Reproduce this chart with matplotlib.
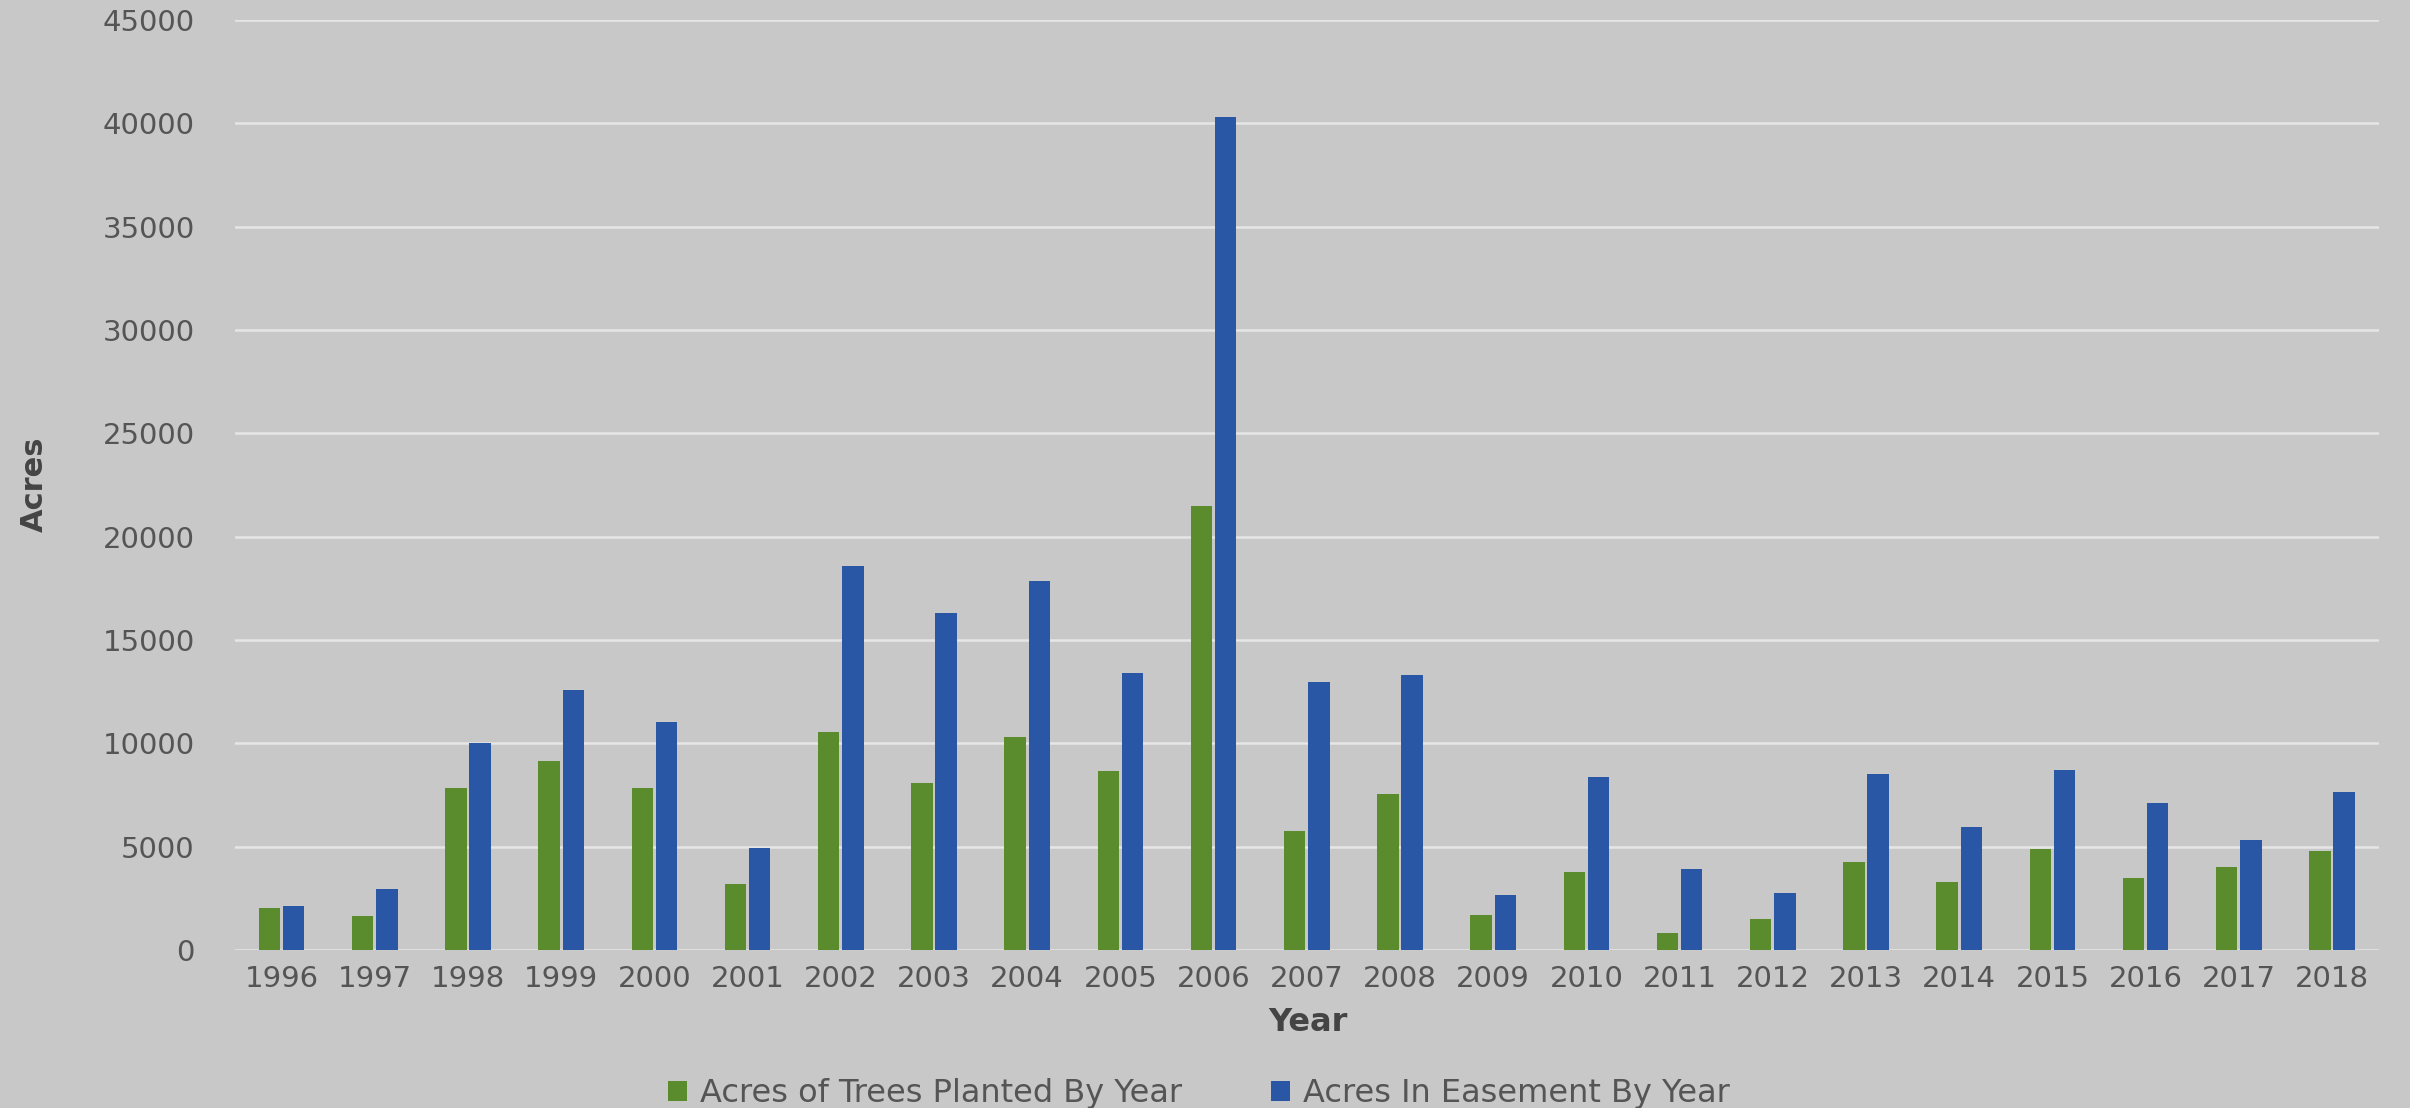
import matplotlib
matplotlib.use('Agg')
import matplotlib.pyplot as plt
import numpy

years = ['1996', '1997', '1998', '1999', '2000', '2001', '2002', '2003',
         '2004', '2005', '2006', '2007', '2008', '2009', '2010', '2011',
         '2012', '2013', '2014', '2015', '2016', '2017', '2018']

trees_planted = [2050, 1650, 7850, 9150, 7850, 3200, 10550, 8100,
                 10300, 8650, 21500, 5750, 7550, 1700, 3750, 800,
                 1500, 4250, 3300, 4900, 3500, 4000, 4800]

easement = [2150, 2950, 10000, 12600, 11050, 4950, 18600, 16300,
            17850, 13400, 40300, 12950, 13300, 2650, 8350, 3900,
            2750, 8500, 5950, 8700, 7100, 5300, 7650]

y_ticks = [0, 5000, 10000, 15000, 20000, 25000, 30000, 35000, 40000, 45000]

BG = '#c8c8c8'
GREEN = '#5a8b2d'
BLUE = '#2a56a6'
TEXT = '#555555'

fig = plt.figure(figsize=(24.1, 11.08), dpi=100, facecolor=BG)
ax = fig.add_axes([0.0975, 0.1426, 0.8895, 0.8394], facecolor=BG)

x = numpy.arange(len(years))
w = 0.23
ax.bar(x - 0.13, trees_planted, width=w, color=GREEN, linewidth=0,
       label='Acres of Trees Planted By Year', zorder=3)
ax.bar(x + 0.13, easement, width=w, color=BLUE, linewidth=0,
       label='Acres In Easement By Year', zorder=3)

ax.set_xlim(-0.5, len(years) - 0.5)
ax.set_ylim(0, 45000)
ax.set_yticks(y_ticks)
ax.set_yticklabels([str(v) for v in y_ticks])
ax.set_xticks(x)
ax.set_xticklabels(years)

for s in ax.spines.values():
    s.set_visible(False)
ax.yaxis.grid(True, color='#e6e6e6', linewidth=1.8, zorder=0)
ax.set_axisbelow(True)
ax.tick_params(axis='both', length=0, colors=TEXT, labelsize=21)
ax.tick_params(axis='y', pad=29)
ax.tick_params(axis='x', pad=11)

fig.text(0.5427, 0.0776, 'Year', ha='center', va='center', fontsize=23,
         fontweight='bold', color='#444444')
fig.text(0.0141, 0.563, 'Acres', ha='center', va='center', rotation=90,
         fontsize=22, fontweight='bold', color='#444444',
         family=['Liberation Sans Narrow', 'DejaVu Sans'])

fig.legend(loc='center', bbox_to_anchor=(0.4975, 0.013), ncol=2,
           frameon=False, fontsize=23, labelcolor=TEXT,
           handlelength=0.6, handleheight=0.6, handletextpad=0.4,
           columnspacing=2.8)

plt.savefig('out.png', dpi=100, facecolor=BG)
